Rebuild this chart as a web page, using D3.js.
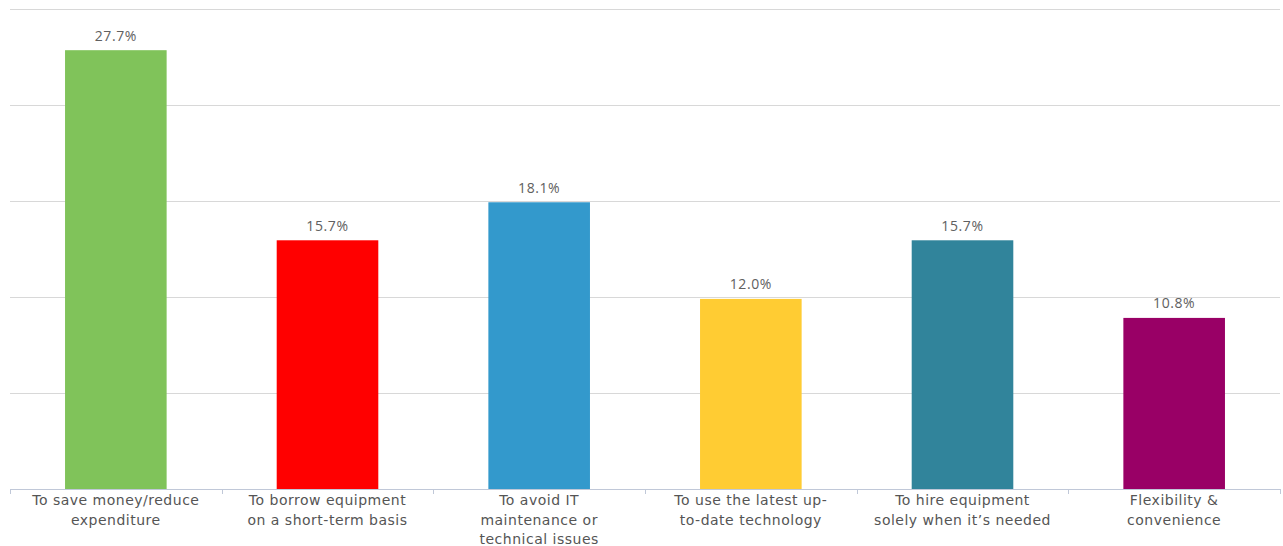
<!DOCTYPE html>
<html><head><meta charset="utf-8">
<script src="https://cdn.jsdelivr.net/npm/d3@7"></script>
<style>body{margin:0;background:#fff;} svg{display:block;}</style>
</head><body>
<svg id="c" width="1283" height="546"></svg>
<script>
const categories = [
  ["To save money/reduce","expenditure"],
  ["To borrow equipment","on a short-term basis"],
  ["To avoid IT","maintenance or","technical issues"],
  ["To use the latest up-","to-date technology"],
  ["To hire equipment","solely when it\u2019s needed"],
  ["Flexibility &","convenience"]
];
const values = [27.7, 15.7, 18.1, 12.0, 15.7, 10.8];
const colors = ["#80C35A","#FF0000","#3399CC","#FFCC33","#31849B","#990066"];
const yMax = 30.3;
const gridCount = 5;

(function(){
const svg = d3.select("#c");
const pl = 10, pr = 1280, pt = 9, pb = 489;
const x = d3.scaleBand().domain(d3.range(categories.length)).range([pl, pr]).paddingInner(0.52).paddingOuter(0.26);
const xTickScale = d3.scaleBand().domain(d3.range(categories.length)).range([pl, pr]);
const y = d3.scaleLinear().domain([0, yMax]).range([pb, pt]);
const yTicks = d3.range(1, gridCount + 1).map(k => yMax * k / gridCount);

svg.append("g").selectAll("line").data(yTicks).join("line")
  .attr("x1", pl).attr("x2", pr)
  .attr("y1", d => Math.round(y(d)) + 0.5).attr("y2", d => Math.round(y(d)) + 0.5)
  .attr("stroke", "#D8D8D8").attr("stroke-width", 1);

svg.append("g").selectAll("rect").data(values).join("rect")
  .attr("x", (d, i) => x(i)).attr("width", x.bandwidth())
  .attr("y", d => y(d)).attr("height", d => pb - y(d))
  .attr("fill", (d, i) => colors[i]);

svg.append("g").selectAll("text").data(values).join("text")
  .attr("x", (d, i) => x(i) + x.bandwidth() / 2)
  .attr("y", d => y(d) - 9.5)
  .attr("text-anchor", "middle")
  .attr("font-family", "Open Sans, sans-serif").attr("font-size", 14)
  .attr("letter-spacing", 0.6)
  .attr("fill", "#606060")
  .text(d => d.toFixed(1) + "%");

const ax = svg.append("g");
ax.append("line").attr("x1", pl).attr("x2", pr).attr("y1", pb + 0.5).attr("y2", pb + 0.5)
  .attr("stroke", "#C0C8D8").attr("stroke-width", 1);
const tickXs = d3.range(categories.length + 1).map(i => i < categories.length ? xTickScale(i) : pr);
ax.selectAll("line.t").data(tickXs).join("line").attr("class", "t")
  .attr("x1", d => Math.round(d) + 0.5).attr("x2", d => Math.round(d) + 0.5)
  .attr("y1", pb).attr("y2", pb + 5)
  .attr("stroke", "#C0C8D8");

const lab = ax.selectAll("text.l").data(categories).join("text").attr("class", "l")
  .attr("x", (d, i) => xTickScale(i) + xTickScale.bandwidth() / 2)
  .attr("y", 505)
  .attr("text-anchor", "middle")
  .attr("font-family", "DejaVu Sans, Verdana, sans-serif").attr("font-size", 14)
  .attr("letter-spacing", 0.5)
  .attr("fill", "#555");
lab.selectAll("tspan").data(d => d).join("tspan")
  .attr("x", function() { return d3.select(this.parentNode).attr("x"); })
  .attr("dy", (d, i) => i === 0 ? 0 : 19.5)
  .text(d => d);
})();
</script>
</body></html>
